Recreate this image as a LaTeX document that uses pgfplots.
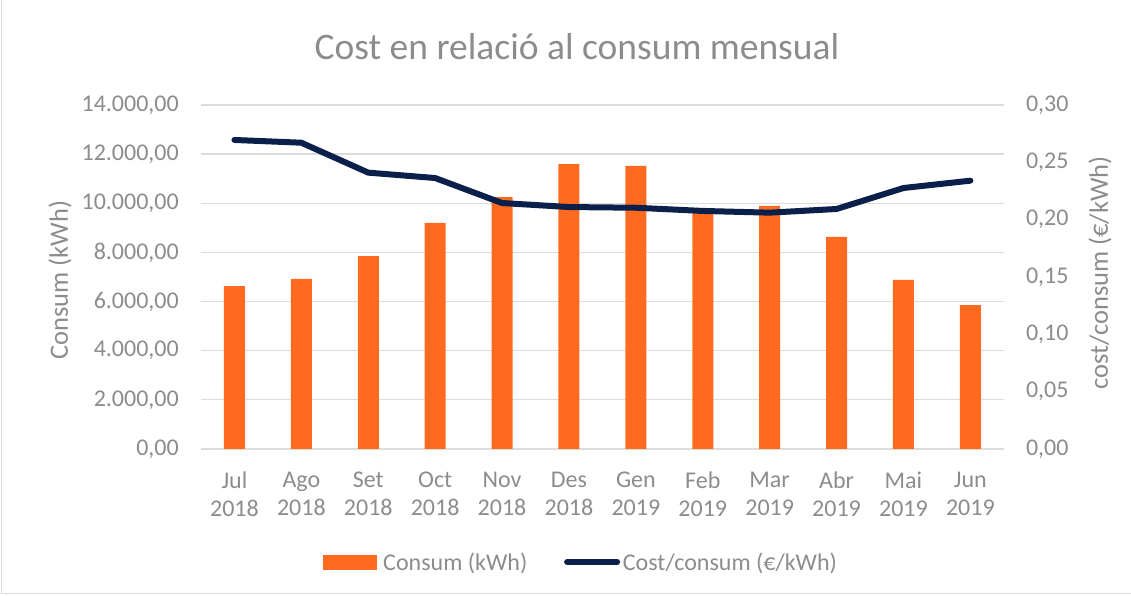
\documentclass[border=0pt]{standalone}
\usepackage{pgfplots}
\pgfplotsset{compat=1.18}
\usepackage{fontspec}
\setmainfont{Carlito}
\definecolor{barorange}{HTML}{FF6A21}
\definecolor{navy}{HTML}{0B1F4B}
\definecolor{txt}{HTML}{8C8C8C}
\definecolor{gridc}{HTML}{DCDCDC}
\newcommand{\tickfont}{\fontsize{24bp}{28bp}\selectfont}
\newcommand{\labfont}{\fontsize{26.5bp}{30bp}\selectfont}

\pgfplotstableread{
x consum cost
0 6630 0.2695
1 6920 0.2671
2 7850 0.2410
3 9200 0.2363
4 10250 0.2145
5 11590 0.2110
6 11520 0.2104
7 9620 0.2076
8 9890 0.2061
9 8630 0.2093
10 6880 0.2276
11 5850 0.2340
}\datatable

\pgfplotsset{
  common/.style={
    scale only axis, width=802.8bp, height=344bp,
    at={(201bp,147bp)}, anchor=south west,
    xmin=-0.5, xmax=11.5,
    axis line style={draw=none}, tick style={draw=none},
    ticklabel style={text=txt, font=\tickfont},
    /pgf/number format/assume math mode=true,
  }
}

\begin{document}
\begin{tikzpicture}[x=1bp,y=1bp]
\useasboundingbox (0,0) rectangle (1131,596);
\draw[gridc, line width=1bp] (1,596) -- (1,2) -- (1131,2);

\node[text=txt, font=\fontsize{37.5bp}{44bp}\selectfont, anchor=base] at (577,536) {Cost en relació al consum mensual};

\begin{axis}[common,
  ymin=0, ymax=14000, ytick={0,2000,...,14000},
  scaled y ticks=false,
  ymajorgrids, grid style={gridc, line width=1.3bp},
  yticklabel style={/pgf/number format/.cd, fixed, fixed zerofill, precision=2, use comma, 1000 sep={.}, /tikz/.cd, inner sep=0pt, xshift=-22bp},
  xtick={0,...,11},
  xticklabels={{Jul\\2018},{Ago\\2018},{Set\\2018},{Oct\\2018},{Nov\\2018},{Des\\2018},{Gen\\2019},{Feb\\2019},{Mar\\2019},{Abr\\2019},{Mai\\2019},{Jun\\2019}},
  xticklabel style={align=center, inner sep=0pt, yshift=-23bp},
  ylabel={Consum (kWh)},
  every axis y label/.style={at={(axis description cs:-0.1756,0.491)}, rotate=90, anchor=center, text=txt, font=\labfont},
]
\addplot[ybar, bar width=21bp, fill=barorange, draw=none] table[x=x, y=consum] {\datatable};
\end{axis}

\begin{axis}[common,
  ymin=0, ymax=0.30, ytick={0,0.05,0.1,0.15,0.2,0.25,0.3},
  axis y line*=right, axis x line=none,
  yticklabel style={/pgf/number format/.cd, fixed, fixed zerofill, precision=2, use comma, /tikz/.cd, inner sep=0pt, anchor=west, xshift=22bp},
  ylabel={cost/consum (€/kWh)},
  every axis y label/.style={at={(axis description cs:1.1198,0.512)}, rotate=90, anchor=center, text=txt, font=\labfont},
  legend columns=2,
  legend style={at={(axis description cs:0.474,-0.3285)}, anchor=center, draw=none, fill=none,
    font=\tickfont, text=txt,
    /tikz/every even column/.append style={column sep=34bp},
    nodes={inner sep=2.8bp}},
]
\addlegendimage{legend image code/.code={\fill[barorange] (0bp,-7bp) rectangle (53bp,7bp); \path[draw=none, fill=none] (57bp,0bp);}}
\addlegendimage{legend image code/.code={\draw[navy, line width=6bp, line cap=round] (3bp,0bp) -- (53bp,0bp);}}
\addplot[navy, line width=6bp, line join=round, line cap=round, forget plot] table[x=x, y=cost] {\datatable};
\legend{Consum (kWh), Cost/consum (€/kWh)}
\end{axis}
\end{tikzpicture}
\end{document}
